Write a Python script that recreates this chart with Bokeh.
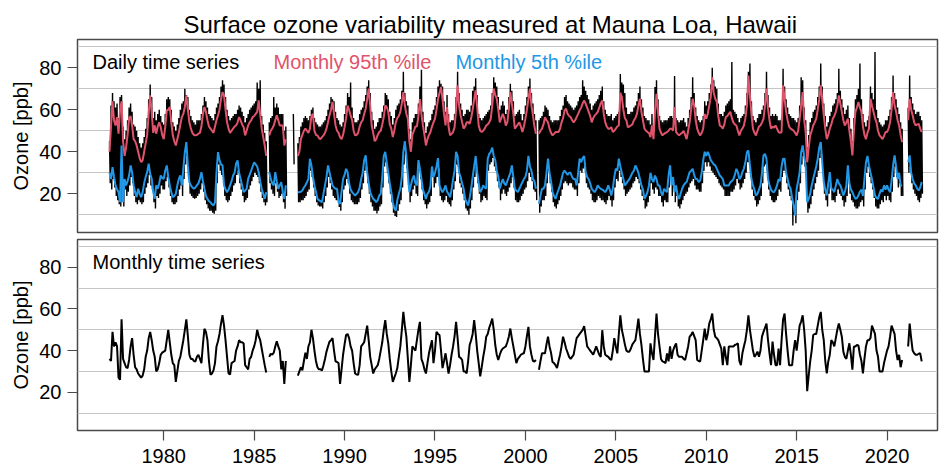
import numpy as np
from bokeh.plotting import figure
from bokeh.layouts import column
from bokeh.models import Range1d, FixedTicker, Label
from bokeh.embed import file_html
from bokeh.resources import INLINE

N = None
start_year = 1977
tick_years = [1980, 1985, 1990, 1995, 2000, 2005, 2010, 2015, 2020]
y_ticks = [20, 40, 60, 80]
grid_levels = [10, 30, 50, 70, 90]

# Monthly mean ozone (ppb), Jan 1977 .. Dec 2021, one row per year
monthly_mean = [
    36, 35, 49, 42, 44, 42, 27, 26, 55, 36, 34, 32,
    31.6, 35.5, 42, 46, 38, 32, 31, 29, 28, 27, 28, 31,
    37, 40, 46, 49, 45, 40, 37, 30, 31, 34, 38, 39,
    39.5, 40, 45, 50, 44, 38, 34, 33, 25, 30, 35, 37,
    41, 45, 50, 55, 47, 38, 36, 36, 35, 34.8, 37, 38,
    36, 34, 43, 50.5, 49, 45, 35, 28.4, 29, 30.5, 34, 42,
    44.5, 48, 53, 57, 52, 45, 37, 29, 28.5, 34, 34.5, 35,
    40, 42, 45, 44, 44, 43.5, 33, 32, 31, 36, 37, 40,
    42, 45, 50, 47, 45, 41, 37, 33, 29.5, N, 37, 38.5,
    38, 39, 42, 44.5, 42, 40, 31, 35, 24, 35, N, N,
    N, N, N, N, N, 28, 30, 32, 30.5, 35, 39, 36,
    42, 44, 50, 46, 40, 35, 32, 31, 31, 30.5, 33, 36,
    39.5, 42, 44.3, 45, 46, 40, 34.8, 34.5, 34, 24, 31, 38,
    43, 47.5, 48, 46, 42, 40, 34, 29, 28.5, 28.4, 33, 42,
    43, 44, 48, 52, 45, 37, 33, 29, 31, 32, 33, 36,
    40, 44, 50, 54.6, 48, 43.5, 36, 30, 25, 27, 29, 31.6,
    37, 42, 50, 58.6, 52, 46.7, 36, 25, 33, 42, 41, 40,
    45, 50, 53.8, 36, 34, 31, 29, 34, 38.7, 42, 45, 34,
    40, 49, 48, 47.5, 40, 31.6, 35, 38.7, 34, 29, 33, 38,
    42, 47, 53.8, 46, 37, 36.5, 35.5, 30, 30, 29, 35, 42.7,
    45, 48, 54.6, 48, 40, 34, 27.6, 32, 37, 41, 46.7, 48,
    51, 53, 55.4, 50, 42.7, 38, 35.5, 38, 40, 41, 41.5, 42,
    44, 46.7, 50.6, 46, 42, 38, 34, 36, 37, 38, 38.5, 38.7,
    42, 47, 51.4, 42, 38, 35, 34.8, 35.5, N, 30.8, 35, 38.7,
    38.7, 38.7, 43, 46.7, 42, 39, 34.5, 34, 33, 31.6, 35, 38,
    42, 46.7, 44, 41, 39, 37, 36, 37, 38, 42, 46, 47,
    48, 49, 50, 51.7, 47, 42, 41, 40, 39, 38, 40, 42,
    40, 38, 37, 49.8, 42, 38, 37.5, 37, 36, 35.5, 40, 46,
    42, 38.7, 48, 57, 50, 46.7, 43, 40, 39.5, 39.5, 41, 43,
    44, 45, 50, 55.4, 48, 42.7, 36, 30, 30, 30, 30, 43.5,
    38.7, 35.5, 47, 57.8, 48, 42, 36, 34.8, 34.5, 34, 38.7, 34.8,
    42, 36, 40, 42, 43.5, 38, 37, 37, 37, 36, 35.5, 38.7,
    42, 46.7, 47.5, 49, 47, 45, 35.5, 35, 34.8, 40, 45, 50.6,
    45, 48, 53, 55, 57.8, 50, 46.7, 46, 45, 43, 41, 33,
    42, 37, 33, 42, 42, 42, 42, 42.7, 43, 43.5, 35, 33,
    38.7, 42, 45, 50, 57, 50, 45, 40, 37, 38, 39.5, 37,
    40, 46.7, 49, 51, 53, 45, 38.7, 33, 44.3, 38, 33, 33,
    41, 33, 45, 55, 57.8, 48, 40, 33, 33, 33, 40, 45,
    40, 46, 52, 54, 57, 50, 40, 20.5, 28, 34.8, 40, 47.5,
    48, 48, 52, 56, 58.6, 50, 45, 35, 29, 34.8, 38, 45,
    44, 42, 46, 50, 53, 50, 46.7, 39.5, 37, 36, 40, 43.5,
    38, 30.8, 42, 42, 42.7, 42.5, 38, 35, 29, 36, 42, 45,
    45, 46, 52, 50, 48, 40, 37, 30, 30, 30, 34, 37,
    40, 42, 46.7, 52, 50, 48, 40, 35.5, 38, 32, 35.5, N,
    N, N, 42, 53, 46, 40, 38.7, 38, 38, 38.5, 38.7, 34.8,
]

# Monthly 95th percentile of daily values (ppb)
monthly_p95 = [
    40, 52, 64, 55, 52.5, 56.5, 48.6, 60, 64, 45, 38, 42,
    48, 56, 57, 52.5, 46, 45, 43, 40, 37, 35, 36, 40,
    44, 48, 58, 66.8, 59, 49, 52.5, 48.6, 52, 54, 51.7, 48,
    46, 52, 59.7, 60, 61.3, 54, 47.8, 45, 43, 46, 49, 53,
    56.5, 58, 61.3, 66.8, 60, 54, 51, 49, 48, 47.8, 48, 48.6,
    49, 52, 58, 61.3, 59, 55, 52, 51, 50, 49, 52, 55,
    57.3, 60, 65, 68.4, 66.8, 60, 54, 51, 49, 50, 51, 52,
    52.5, 54, 56.5, 55, 53, 51.7, 47.8, 50, 52.5, 54, 55, 56.5,
    57, 58, 59, 64.4, 58, 51, 47, 43, 38, N, 47.8, 50,
    51, 52.5, 55, 57.3, 55, 52.5, 52.5, 52.5, 43, 46, N, N,
    N, N, N, N, N, 38, 40, 46, 48, 50, 51, 50,
    49, 51, 57, 58, 50, 48, 47.8, 46.5, 46, 47, 47.8, 49,
    51, 54, 57.3, 60, 63.7, 58, 52.5, 50, 49, 47, 46, 48,
    51.7, 56, 62, 60, 57.3, 55, 50, 47.8, 48, 49, 52, 54,
    55, 58, 60.5, 65, 70, 62, 52.5, 49, 45, 46, 48, 49.4,
    50, 53, 56.5, 62, 61.3, 59, 53, 51, 47, 50, 54, 56,
    57, 59, 63, 68.4, 62, 58, 55.7, 45, 40, 48, 50, 52,
    52, 57, 65, 58, 52.5, 48, 43, 46, 48, 49.4, 52, 54,
    55.7, 60, 65, 68, 70.8, 65, 58, 52.5, 61.3, 52, 47.8, 48.5,
    49.4, 51.7, 60, 71.6, 62, 57.3, 54, 51, 52, 54, 54, 53.3,
    56, 60, 65, 69.2, 61.3, 52.5, 50, 49.4, 50, 51, 52.5, 53,
    54, 55.7, 62, 70, 67, 65.2, 60, 54, 56, 58, 56, 52.5,
    54, 60, 68.4, 62.9, 58, 51, 52, 53, 54, 52, 49.4, 52,
    55.7, 60, 65, 70, 62, 57.3, 52, 48.6, N, 48.6, 50, 51,
    53, 56.5, 55, 54, 51, 49, 47.8, 48.5, 49.4, 49.4, 49.4, 51,
    54, 56, 59.7, 60.5, 58, 57, 56.5, 55, 54, 55, 56.5, 58,
    59.7, 61, 63, 64.4, 62.9, 61, 59, 57, 54, 56, 57.3, 58,
    59, 61, 63, 64.4, 58, 54, 52, 51, 51, 51.7, 49.4, 50,
    51, 52, 52.5, 68, 66, 60, 56, 55, 51.7, 52, 52.5, 53,
    55, 56, 58, 62, 65.2, 59, 55, 51, 50, 49.4, 49, 47,
    52.5, 46, 59, 67.6, 59, 51, 49, 47.8, 48.5, 49, 49.4, 50,
    51, 51, 50, 61.3, 49.4, 48.5, 47.8, 48.5, 49, 50, 48, 46,
    50, 54, 60, 65.2, 62, 55, 51, 49, 47.8, 49, 51, 58,
    55.7, 58, 62, 66, 75.5, 68, 65.2, 63.7, 57, 52.5, 52, 51,
    53, 56.5, 57, 58, 59, 56, 54, 53, 52.5, 50, 47.8, 50,
    51, 52.5, 56, 62, 76.3, 66.8, 58, 51, 49, 47.8, 50, 52,
    52.5, 54, 55.7, 62, 70, 60.5, 55, 51, 52, 51.5, 52.5, 51,
    49.4, 49, 49.4, 71.6, 65, 59, 55, 52, 51, 50.5, 50, 49,
    47.8, 50, 55.7, 62, 68.4, 55, 49.4, 35, 42, 47.8, 50, 52.5,
    54, 55.7, 60, 65, 71.6, 65, 57.3, 51, 46, 48, 51, 53,
    55.7, 57, 59, 62, 66.8, 63, 59, 55, 52.5, 54, 55.7, 50,
    45, 38.3, 50, 59, 61, 63.7, 61, 59, 52, 48, 46, 49,
    51, 65.2, 62, 59, 56, 54, 50, 47.8, 47, 46, 47.5, 49.4,
    49.4, 51, 54, 60, 68.4, 62, 59, 55, 52.5, 48, 44.6, N,
    N, N, 55, 65.2, 60, 57.3, 54, 52.5, 53, 53.3, 51, 49.4,
]

# Monthly 5th percentile of daily values (ppb)
monthly_p5 = [
    30, 27, 32.7, 28, 24, 22, 20.8, 16, 43, 16, 27, 24,
    26, 28.7, 33.5, 30.3, 24, 20.8, 18.4, 22.4, 20, 18.4, 20.8, 25,
    28, 30.3, 34.3, 29.5, 27.1, 20.8, 17.6, 24, 22.4, 25, 28.7, 27.5,
    27.1, 31.1, 33.5, 28, 24, 20.8, 18.4, 19, 20, 24, 27.1, 28.7,
    24, 32, 39.8, 44.6, 33.5, 25.6, 24, 23, 22.4, 23, 24, 25,
    27.1, 30.3, 26, 22.4, 19, 17.6, 16.5, 16, 15, 14.4, 16, 30,
    39.8, 36, 34, 33.5, 24, 22, 20.8, 22, 24, 26, 28.7, 30,
    34.3, 35.9, 30, 27.1, 24, 20.8, 21.5, 22.4, 27.1, 29, 31, 33,
    35, 34, 33, 30.3, 26, 22.4, 20, 17.6, 20.8, N, 30.3, 27.1,
    25, 24, 30.3, 26, 22.4, 24, 25.6, 20.8, 17.6, 24, N, N,
    N, N, N, N, N, 20.8, 20.8, 21, 21.6, 23, 24, 25.5,
    27.1, 36.7, 33.5, 28, 24, 21, 17.6, 17, 16.5, 16, 20, 24,
    28, 33.5, 30.3, 27, 24, 23, 22.4, 22.4, 16, 15.2, 21, 27.1,
    29, 31.9, 30.3, 25, 22, 20.8, 20, 19.2, 20, 20.8, 23, 27.1,
    30, 36, 38.3, 30.3, 25, 20.8, 19, 17.6, 17, 16, 17, 19.2,
    20, 28, 38, 40, 35, 30, 25, 20.8, 16, 13, 12, 17,
    20, 22.4, 28, 40, 45, 38, 29, 20.8, 24, 27, 28.7, 25,
    24, 36, 32, 27, 22, 20, 17.6, 20, 21, 24, 33, 28,
    30, 33, 37, 24, 22, 20.8, 22, 24, 21, 20, 18.4, 22,
    27, 31, 40, 38, 30, 28, 25, 22.4, 17.6, 16, 14.4, 18,
    22.4, 28, 33, 38, 30.3, 25, 20.8, 22, 24, 23, 22.4, 36.7,
    39, 40, 42, 38, 36, 31, 28, 22.4, 25, 27, 25, 24,
    26, 28, 30, 33.5, 28, 22.4, 21.5, 20.8, 22.4, 24, 25.5, 27,
    28, 31, 38, 33, 31, 27, 26, 22.4, N, 15.2, 19, 22.4,
    22.4, 24, 30, 36.7, 30, 26, 20.8, 19, 17.6, 20, 22, 24,
    27, 30, 31, 30, 29, 30, 30, 28, 27, 27, 24, 30,
    36.7, 35, 37, 38, 30.3, 28, 27, 25, 22.4, 21.5, 20.8, 22,
    24, 23, 22.4, 22, 21.5, 20.8, 22, 24, 22, 19.2, 22.4, 28,
    32, 31, 36.7, 33, 30, 27, 24, 25, 26, 27, 28.5, 30,
    31, 33.5, 32, 30, 27, 24, 22, 17.6, 19, 20.8, 24, 30,
    27, 25.6, 28.7, 27, 24, 24, 20.8, 19.2, 22.4, 21.5, 20.8, 28.7,
    33.5, 24, 28, 20.8, 24, 19.2, 17.6, 20, 22.4, 24, 25, 25.6,
    28, 30.3, 31, 31.9, 29, 27, 27, 25.6, 26.4, 30, 36, 40,
    38, 40, 38.3, 36, 35, 34, 33.5, 32, 30.3, 28.7, 28, 27,
    24, 24, 24, 24, 25.6, 26, 27, 29, 31.9, 30.3, 27, 28,
    30.3, 32, 35, 39.8, 40.6, 33.5, 27, 24, 22, 19.2, 20, 22,
    24, 30, 38.3, 39, 36.7, 27, 24, 22, 21, 20.8, 22, 24,
    27, 26, 33, 36.7, 36.7, 30, 27, 24, 22.4, 18, 14.4, 9.7,
    22.4, 26, 30.3, 39.8, 43, 38, 33, 16, 17.6, 20, 24, 27,
    30, 33, 36.7, 42, 44.6, 35, 25.6, 22, 19.2, 25, 30.3, 22.4,
    22, 20.8, 24, 27, 25, 24, 22, 19.2, 21, 24, 33.5, 25,
    22, 20.8, 19, 17.6, 18, 19.2, 21, 22, 19, 27, 35, 38,
    33.5, 30, 27, 23, 19.2, 18, 17.6, 20, 22, 21, 24, 22,
    24, 22, 20.8, 26, 33.5, 38.3, 33, 27, 30, 24, 24, N,
    N, N, 35, 38.3, 30, 27, 25, 24, 22.5, 21.6, 23, 25.6,
]

# Highest and lowest daily value of each month (ppb), drawn as the daily trace
daily_max = [
    45, 62, 68, 64, 61, 63, 56, 66, 67, 52, 46, 50,
    55, 61, 63, 59, 53, 52, 50, 47, 44, 42, 44, 47,
    51, 56, 65, 72, 66, 56, 59, 55, 58, 60, 57, 54,
    53, 58, 65, 66, 65, 60, 54, 52, 50, 53, 56, 60,
    63, 64, 70, 67, 66, 60, 57, 55, 54, 53, 55, 55,
    55, 58, 62, 66, 64, 61, 58, 57, 56, 55, 58, 61,
    63, 66, 71, 74, 72, 66, 60, 57, 55, 56, 57, 58,
    58, 60, 62, 61, 59, 57, 54, 56, 58, 60, 61, 62,
    63, 64, 73, 70, 74, 57, 53, 49, 45, N, 54, 56,
    57, 66, 61, 63, 61, 58, 58, 58, 50, 52, N, N,
    N, N, 58, N, N, 44, 47, 52, 54, 56, 57, 56,
    55, 57, 60, 61, 56, 54, 53, 52, 52, 53, 54, 55,
    57, 60, 63, 66, 65, 64, 59, 56, 55, 53, 52, 54,
    58, 62, 68, 66, 73, 61, 56, 54, 54, 55, 58, 60,
    61, 64, 67, 71, 74, 68, 59, 55, 51, 52, 54, 56,
    56, 59, 62, 68, 67, 65, 59, 57, 53, 56, 60, 62,
    63, 65, 69, 78, 68, 64, 62, 51, 46, 54, 56, 58,
    58, 63, 71, 79, 59, 54, 49, 52, 54, 55, 58, 60,
    62, 66, 71, 74, 72.4, 71, 64, 59, 67, 58, 54, 55,
    55, 58, 66, 78, 68, 63, 60, 57, 58, 60, 60, 59,
    62, 69, 71, 75, 67, 58, 56, 55, 56, 57, 58, 59,
    60, 62, 68, 75.5, 73, 71, 66, 60, 62, 64, 62, 58,
    60, 66, 72.4, 69, 64, 57, 58, 59, 60, 58, 55, 58,
    62, 66, 71, 74.8, 68, 63, 58, 55, N, 55, 56, 57,
    59, 62, 61, 60, 57, 55, 54, 55, 55, 55, 55, 57,
    60, 62, 66, 67, 64, 63, 62, 61, 60, 61, 62, 64,
    66, 67, 74, 71, 69, 67, 65, 63, 60, 62, 63, 64,
    65, 67, 69, 71, 64, 60, 58, 57, 57, 58, 55, 56,
    57, 58, 59, 77, 73, 72, 68, 61, 58, 58, 59, 59,
    61, 62, 64, 68, 71, 65, 61, 57, 56, 55, 55, 53,
    58, 52, 70.8, 74, 65, 57, 55, 54, 55, 55, 55, 56,
    57, 57, 56, 76, 56, 55, 54, 55, 55, 56, 54, 52,
    56, 60, 66, 75.5, 68, 61, 57, 55, 54, 55, 57, 64,
    62, 64, 68, 72, 80, 74, 71, 70, 63, 58, 58, 57,
    59, 62, 63, 64, 65, 82.7, 60, 59, 58, 56, 54, 56,
    57, 58, 62, 68, 78, 82, 64, 57, 55, 54, 56, 58,
    58, 60, 62, 68, 78, 67, 61, 57, 58, 57, 58, 57,
    55, 55, 56, 79.5, 71, 65, 61, 58, 57, 56, 56, 55,
    54, 56, 62, 75.5, 74, 61, 55, 42, 48, 54, 56, 59,
    60, 62, 66, 71, 82, 71, 63, 57, 52, 54, 57, 59,
    62, 63, 65, 68, 79.5, 69, 65, 61, 58, 60, 62, 56,
    51, 45, 56, 65, 67, 70, 82, 65, 58, 54, 52, 55,
    57, 71, 68, 65, 87.4, 60, 56, 54, 53, 52, 53, 55,
    55, 57, 60, 66, 76.3, 68, 65, 61, 58, 54, 51, N,
    N, N, 61, 76.3, 66, 63, 60, 58, 59, 59, 57, 55,
]

daily_min = [
    25, 22, 27, 23, 19, 17, 15, 14, 36, 14, 22, 19,
    21, 24, 28, 25, 19, 16, 15, 17, 16, 15, 16, 20,
    23, 25, 29, 24, 22, 16, 13, 19, 18, 20, 24, 22,
    22, 26, 28, 23, 19, 16, 15, 15, 16, 19, 22, 24,
    19, 27, 34, 38, 28, 20, 19, 18, 17.6, 18, 19, 20,
    22, 25, 21, 17, 15, 13, 12, 12, 11, 10.5, 12, 25,
    34, 31, 29, 28, 19, 17, 16, 17, 19, 21, 24, 25,
    29, 31, 25, 22, 19, 16, 17, 18, 22, 24, 26, 28,
    30, 29, 28, 25, 21, 18, 16, 14.4, 16, N, 25, 22,
    20, 19, 25, 21, 18, 19, 20, 16, 12.9, 19, N, N,
    N, N, 34, N, N, 16, 16, 17, 17, 18, 19, 21,
    22, 31, 28, 23, 19, 16, 14.4, 14, 14, 13, 16, 19,
    23, 28, 25, 22, 19, 18, 17, 17, 13.7, 12, 16, 22,
    24, 27, 25, 20, 17, 16, 15, 15, 15, 16, 18, 22,
    25, 31, 33, 25, 20, 16, 14, 12, 12, 10.6, 12, 14,
    15, 23, 33, 35, 30, 25, 20, 16, 11, 9.5, 9, 12,
    15, 17, 23, 34, 39, 32, 24, 16, 19, 22, 24, 20,
    19, 31, 27, 22, 17, 15, 13, 15, 16, 19, 28, 23,
    25, 28, 32, 19, 17, 16, 17, 19, 16, 15, 14, 17,
    22, 26, 34, 33, 25, 23, 20, 17, 13, 12, 10, 13,
    17, 23, 28, 33, 25, 20, 16, 17, 19, 18, 17, 31,
    34, 35, 37, 33, 31, 26, 23, 17, 20, 22, 20, 19,
    21, 23, 25, 28, 23, 17, 16, 16, 17, 19, 20, 22,
    23, 26, 30, 28, 26, 22, 21, 17, N, 11, 14, 17,
    17, 19, 25, 31, 25, 21, 16, 14, 13, 15, 17, 19,
    22, 25, 26, 25, 24, 25, 25, 23, 22, 22, 19, 25,
    31, 30, 32, 33, 25, 23, 22, 20, 17, 16, 16, 17,
    19, 18, 17, 17, 16, 15, 17, 19, 17, 14, 17, 23,
    27, 26, 31, 28, 25, 22, 19, 20, 21, 22, 23, 25,
    26, 28, 27, 25, 22, 19, 17, 13, 14, 16, 19, 25,
    22, 20, 23, 22, 19, 19, 16, 14, 17, 16, 16, 23,
    28, 19, 23, 16, 19, 14, 13, 15, 17, 19, 20, 21,
    23, 25, 26, 27, 24, 22, 22, 21, 21, 25, 31, 35,
    33, 35, 33, 31, 30, 29, 28, 27, 25, 24, 23, 22,
    19, 19, 19, 19, 21, 21, 22, 24, 27, 25, 22, 23,
    25, 27, 30, 35, 35, 28, 22, 19, 17, 14, 15, 17,
    19, 25, 33, 34, 31, 22, 19, 17, 16, 16, 17, 19,
    22, 21, 28, 31, 31, 25, 22, 19, 17, 4.9, 10, 6,
    17, 21, 25, 34, 38, 33, 28, 11, 13, 15, 19, 22,
    25, 28, 31, 37, 39, 30, 20, 17, 14, 20, 25, 17,
    17, 16, 19, 22, 20, 19, 17, 14, 16, 19, 28, 20,
    17, 16, 14, 13, 13, 14, 16, 17, 14, 22, 30, 33,
    28, 25, 22, 18, 14, 13, 13, 15, 17, 16, 19, 17,
    19, 17, 16, 21, 28, 33, 28, 23, 25, 19, 19, N,
    N, N, 30, 33, 25, 22, 20, 19, 17, 16, 18, 20,
]

RED = "#DF536B"
BLUE = "#2297E6"
FONT = "Liberation Sans"

mean = np.array(monthly_mean, dtype=float)
p95 = np.array(monthly_p95, dtype=float)
p5 = np.array(monthly_p5, dtype=float)
dmax = np.array(daily_max, dtype=float)
dmin = np.array(daily_min, dtype=float)
n = len(mean)
t = start_year + np.arange(n) / 12.0

# daily trace: alternate the month's highest and lowest day
xd = np.empty(2 * n)
yd = np.empty(2 * n)
xd[0::2] = t
xd[1::2] = t + 1.0 / 24.0
yd[0::2] = dmax
yd[1::2] = dmin

x_range = Range1d(1975.23, 2022.79)


def make_fig(height, top, bottom, show_x):
    p = figure(width=939, height=height, x_range=x_range,
               y_range=Range1d(1.6, 93.4), output_backend="svg",
               toolbar_location=None, min_border_left=77, min_border_right=2,
               min_border_top=top, min_border_bottom=bottom,
               x_axis_location="below" if show_x else None)
    p.background_fill_color = "white"
    p.border_fill_color = "white"
    p.outline_line_color = "#4a4a4a"
    p.outline_line_width = 1.5
    p.xgrid.visible = False
    p.ygrid.ticker = FixedTicker(ticks=grid_levels)
    p.ygrid.grid_line_color = "#c4c4c4"
    p.ygrid.grid_line_width = 1.2
    ya = p.yaxis[0]
    ya.ticker = FixedTicker(ticks=y_ticks)
    ya.axis_line_color = None
    ya.major_tick_out = 10
    ya.major_tick_in = 0
    ya.minor_tick_line_color = None
    ya.major_tick_line_color = "#4a4a4a"
    ya.major_tick_line_width = 1.2
    ya.major_label_text_font = FONT
    ya.major_label_text_font_size = "20px"
    ya.major_label_text_color = "black"
    ya.major_label_standoff = 6
    ya.axis_label = "Ozone [ppb]"
    ya.axis_label_text_font = FONT
    ya.axis_label_text_font_size = "20px"
    ya.axis_label_text_font_style = "normal"
    ya.axis_label_text_color = "black"
    ya.axis_label_standoff = 4
    if show_x:
        xa = p.xaxis[0]
        xa.ticker = FixedTicker(ticks=tick_years)
        xa.axis_line_color = None
        xa.major_tick_out = 10
        xa.major_tick_in = 0
        xa.minor_tick_out = 0
        xa.minor_tick_line_color = None
        xa.major_tick_line_color = "#4a4a4a"
        xa.major_tick_line_width = 1.2
        xa.major_label_text_font = FONT
        xa.major_label_text_font_size = "20px"
        xa.major_label_text_color = "black"
        xa.major_label_standoff = 8
    return p


p1 = make_fig(235, 39, 3, False)
p1.title.text = "Surface ozone variability measured at Mauna Loa, Hawaii"
p1.title.text_font = FONT
p1.title.text_font_size = "24px"
p1.title.text_font_style = "normal"
p1.title.text_color = "black"
p1.title.align = "left"
p1.title.offset = 106
p1.title.standoff = 3

p1.line(xd, yd, line_color="black", line_width=1.4)
p1.line(t, p95, line_color=RED, line_width=2)
p1.line(t, p5, line_color=BLUE, line_width=2)

label_y = 82.8
p1.add_layout(Label(x=1976.06, y=label_y, text="Daily time series", text_font=FONT,
                    text_font_size="20px", text_color="black", text_baseline="middle"))
p1.add_layout(Label(x=1986.07, y=label_y, text="Monthly 95th %ile", text_font=FONT,
                    text_font_size="20px", text_color=RED, text_baseline="middle"))
p1.add_layout(Label(x=1996.13, y=label_y, text="Monthly 5th %ile", text_font=FONT,
                    text_font_size="20px", text_color=BLUE, text_baseline="middle"))

p2 = make_fig(230, 4, 33, True)
p2.line(t, mean, line_color="black", line_width=2)
p2.add_layout(Label(x=1976.06, y=label_y, text="Monthly time series", text_font=FONT,
                    text_font_size="20px", text_color="black", text_baseline="middle"))

layout = column(p1, p2, spacing=0)
open("out.html", "w").write(file_html(layout, INLINE))
